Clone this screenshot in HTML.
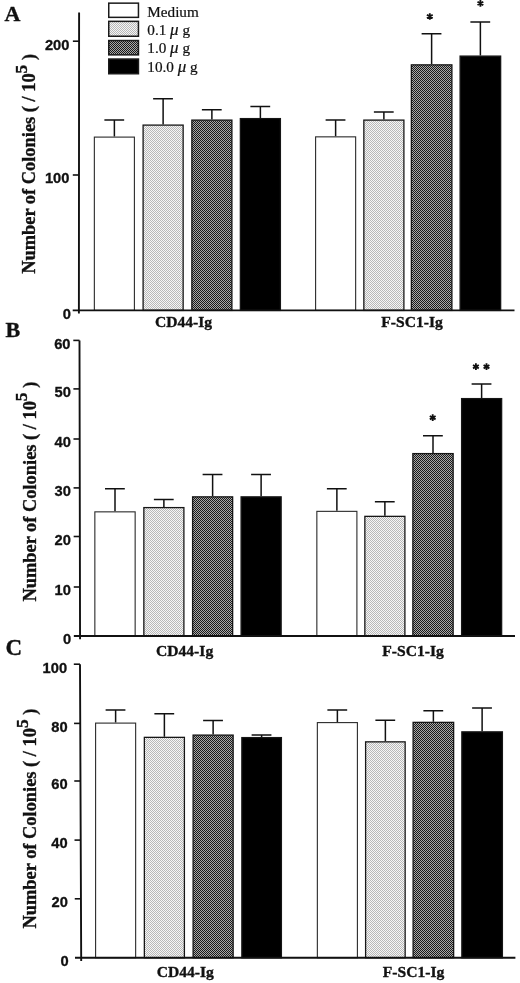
<!DOCTYPE html><html><head><meta charset="utf-8"><title>Figure</title>
<style>html,body{margin:0;padding:0;background:#fff;overflow:hidden}svg{display:block;position:absolute;left:0;top:0}svg{will-change:transform}.ss{font-family:"Liberation Sans",sans-serif;font-weight:bold;stroke:#111;stroke-width:.3px}.sb{font-family:"Liberation Serif",serif;font-weight:bold;stroke:#111;stroke-width:.35px}.sr{font-family:"Liberation Serif",serif;stroke:#111;stroke-width:.22px}</style></head><body>
<svg width="520" height="983" viewBox="0 0 520 983">
<defs><pattern id="pl" width="2" height="2" patternUnits="userSpaceOnUse" shape-rendering="crispEdges"><rect width="2" height="2" fill="#f6f6f6"/><rect x="0" y="0" width="1" height="1" fill="#b8b8b8"/><rect x="1" y="1" width="1" height="1" fill="#b8b8b8"/></pattern><pattern id="pd" width="2" height="2" patternUnits="userSpaceOnUse" shape-rendering="crispEdges"><rect width="2" height="2" fill="#a8a8a8"/><rect x="0" y="0" width="1" height="1" fill="#1a1a1a"/><rect x="1" y="1" width="1" height="1" fill="#1a1a1a"/></pattern></defs>
<rect width="520" height="983" fill="#fff"/>
<path d="M114.38 136.5V120M104.38 120H124.17" stroke="#111" stroke-width="1.5" fill="none"/>
<rect x="94.35" y="137.10" width="40.05" height="173.30" fill="#fff" stroke="#2a2a2a" stroke-width="1.1"/>
<path d="M163.12 124.5V98.75M153.12 98.75H172.93" stroke="#111" stroke-width="1.5" fill="none"/>
<rect x="143.10" y="125.10" width="40.05" height="185.30" fill="url(#pl)" stroke="#161616" stroke-width="1.3"/>
<path d="M211.88 119.5V109.75M201.88 109.75H221.68" stroke="#111" stroke-width="1.5" fill="none"/>
<rect x="191.85" y="120.10" width="40.05" height="190.30" fill="url(#pd)" stroke="#161616" stroke-width="1.3"/>
<path d="M260.38 118V106.5M250.38 106.5H270.18" stroke="#111" stroke-width="1.5" fill="none"/>
<rect x="240.35" y="118.60" width="40.05" height="191.80" fill="#000" stroke="#161616" stroke-width="1.3"/>
<path d="M335.62 136.25V120M325.62 120H345.43" stroke="#111" stroke-width="1.5" fill="none"/>
<rect x="315.60" y="136.85" width="40.05" height="173.55" fill="#fff" stroke="#2a2a2a" stroke-width="1.1"/>
<path d="M383.88 119.5V112M373.88 112H393.68" stroke="#111" stroke-width="1.5" fill="none"/>
<rect x="363.85" y="120.10" width="40.05" height="190.30" fill="url(#pl)" stroke="#161616" stroke-width="1.3"/>
<path d="M431.62 64.25V33.75M421.62 33.75H441.43" stroke="#111" stroke-width="1.5" fill="none"/>
<rect x="411.35" y="64.85" width="40.55" height="245.55" fill="url(#pd)" stroke="#161616" stroke-width="1.3"/>
<path d="M480.38 55.5V22M470.38 22H490.18" stroke="#111" stroke-width="1.5" fill="none"/>
<rect x="460.10" y="56.10" width="40.55" height="254.30" fill="#000" stroke="#161616" stroke-width="1.3"/>
<path d="M79.1 12.5L78.9 313.6M72.70 310.4H514.5" stroke="#111" stroke-width="1.9" fill="none"/>
<path d="M72.88 41.2H79.08" stroke="#111" stroke-width="1.6"/>
<text class="ss" transform="translate(69.40 49.5) scale(1.05 1)" font-size="14" text-anchor="end" fill="#111">200</text>
<path d="M72.79 175H78.99" stroke="#111" stroke-width="1.6"/>
<text class="ss" transform="translate(69.40 183.3) scale(1.05 1)" font-size="14" text-anchor="end" fill="#111">100</text>
<text class="ss" transform="translate(70.90 318.7) scale(1.05 1)" font-size="14" text-anchor="end" fill="#111">0</text>
<text class="sb" x="4.5" y="21" font-size="22" fill="#111">A</text>
<text class="sb" x="183.5" y="326.5" font-size="15.6" text-anchor="middle" fill="#111">CD44-Ig</text>
<text class="sb" x="412" y="326.5" font-size="15.6" text-anchor="middle" fill="#111">F-SC1-Ig</text>
<text class="sb" transform="translate(35.0 163.85) rotate(-90)" font-size="18.4" text-anchor="middle" fill="#111">Number of Colonies ( / 10<tspan dy="-8.5" font-size="17.5">5</tspan><tspan dy="8.5"> )</tspan></text>
<path d="M429.80 13.15L429.80 19.85M432.70 14.82L426.90 18.18M432.70 18.18L426.90 14.82" stroke="#111" stroke-width="1.85" fill="none"/>
<path d="M480.40 0.05L480.40 6.75M483.30 1.73L477.50 5.07M483.30 5.08L477.50 1.72" stroke="#111" stroke-width="1.85" fill="none"/>
<rect x="108.75" y="3.15" width="29.7" height="14.20" fill="#fff" stroke="#1a1a1a" stroke-width="1.5"/>
<rect x="108.75" y="21.35" width="29.7" height="14.90" fill="url(#pl)" stroke="#1a1a1a" stroke-width="1.5"/>
<rect x="108.75" y="40.55" width="29.7" height="14.30" fill="url(#pd)" stroke="#1a1a1a" stroke-width="1.5"/>
<rect x="108.75" y="59.05" width="29.7" height="14.70" fill="#000" stroke="#1a1a1a" stroke-width="1.5"/>
<text class="sr" x="147.3" y="17" font-size="15.2" fill="#111">Medium</text>
<text class="sr" x="147.3" y="35" font-size="15.2" fill="#111">0.1 <tspan font-style="italic" font-size="17">&#956;</tspan> g</text>
<text class="sr" x="147.3" y="53" font-size="15.2" fill="#111">1.0 <tspan font-style="italic" font-size="17">&#956;</tspan> g</text>
<text class="sr" x="147.3" y="72" font-size="15.2" fill="#111">10.0 <tspan font-style="italic" font-size="17">&#956;</tspan> g</text>
<path d="M115.00 511.25V488.75M105.00 488.75H124.80" stroke="#111" stroke-width="1.5" fill="none"/>
<rect x="94.85" y="511.85" width="40.30" height="124.15" fill="#fff" stroke="#2a2a2a" stroke-width="1.1"/>
<path d="M163.88 507V499.5M153.88 499.5H173.68" stroke="#111" stroke-width="1.5" fill="none"/>
<rect x="143.85" y="507.60" width="40.05" height="128.40" fill="url(#pl)" stroke="#161616" stroke-width="1.3"/>
<path d="M212.62 496.25V474.5M202.62 474.5H222.43" stroke="#111" stroke-width="1.5" fill="none"/>
<rect x="192.60" y="496.85" width="40.05" height="139.15" fill="url(#pd)" stroke="#161616" stroke-width="1.3"/>
<path d="M261.12 496.25V474.5M251.12 474.5H270.93" stroke="#111" stroke-width="1.5" fill="none"/>
<rect x="241.10" y="496.85" width="40.05" height="139.15" fill="#000" stroke="#161616" stroke-width="1.3"/>
<path d="M336.88 510.75V488.75M326.88 488.75H346.68" stroke="#111" stroke-width="1.5" fill="none"/>
<rect x="316.85" y="511.35" width="40.05" height="124.65" fill="#fff" stroke="#2a2a2a" stroke-width="1.1"/>
<path d="M384.88 515.75V501.75M374.88 501.75H394.68" stroke="#111" stroke-width="1.5" fill="none"/>
<rect x="364.85" y="516.35" width="40.05" height="119.65" fill="url(#pl)" stroke="#161616" stroke-width="1.3"/>
<path d="M433.00 453V435.75M423.00 435.75H442.80" stroke="#111" stroke-width="1.5" fill="none"/>
<rect x="412.85" y="453.60" width="40.30" height="182.40" fill="url(#pd)" stroke="#161616" stroke-width="1.3"/>
<path d="M481.62 398V384M471.62 384H491.43" stroke="#111" stroke-width="1.5" fill="none"/>
<rect x="461.60" y="398.60" width="40.05" height="237.40" fill="#000" stroke="#161616" stroke-width="1.3"/>
<path d="M79.5 340.4L80.05 639.2M73.84 636.0H515" stroke="#111" stroke-width="1.9" fill="none"/>
<path d="M73.30 340.4H79.50" stroke="#111" stroke-width="1.6"/>
<text class="ss" transform="translate(70.50 348.7) scale(1.05 1)" font-size="14" text-anchor="end" fill="#111">60</text>
<path d="M73.39 388.9H79.59" stroke="#111" stroke-width="1.6"/>
<text class="ss" transform="translate(70.90 397.2) scale(1.05 1)" font-size="14" text-anchor="end" fill="#111">50</text>
<path d="M73.48 439.0H79.68" stroke="#111" stroke-width="1.6"/>
<text class="ss" transform="translate(70.90 447.3) scale(1.05 1)" font-size="14" text-anchor="end" fill="#111">40</text>
<path d="M73.57 487.9H79.77" stroke="#111" stroke-width="1.6"/>
<text class="ss" transform="translate(70.90 496.2) scale(1.05 1)" font-size="14" text-anchor="end" fill="#111">30</text>
<path d="M73.66 536.5H79.86" stroke="#111" stroke-width="1.6"/>
<text class="ss" transform="translate(70.90 544.8) scale(1.05 1)" font-size="14" text-anchor="end" fill="#111">20</text>
<path d="M73.75 587.0H79.95" stroke="#111" stroke-width="1.6"/>
<text class="ss" transform="translate(70.90 595.3) scale(1.05 1)" font-size="14" text-anchor="end" fill="#111">10</text>
<text class="ss" transform="translate(71.10 644.3) scale(1.05 1)" font-size="14" text-anchor="end" fill="#111">0</text>
<text class="sb" x="5.5" y="337" font-size="22" fill="#111">B</text>
<text class="sb" x="184.6" y="656.3" font-size="15.6" text-anchor="middle" fill="#111">CD44-Ig</text>
<text class="sb" x="413" y="656.3" font-size="15.6" text-anchor="middle" fill="#111">F-SC1-Ig</text>
<text class="sb" transform="translate(35.6 491.6) rotate(-90)" font-size="18.4" text-anchor="middle" fill="#111">Number of Colonies ( / 10<tspan dy="-8.5" font-size="17.5">5</tspan><tspan dy="8.5"> )</tspan></text>
<path d="M432.70 414.35L432.70 421.05M435.60 416.02L429.80 419.38M435.60 419.38L429.80 416.02" stroke="#111" stroke-width="1.85" fill="none"/>
<path d="M475.90 363.35L475.90 370.05M478.80 365.02L473.00 368.38M478.80 368.38L473.00 365.02" stroke="#111" stroke-width="1.85" fill="none"/>
<path d="M486.50 363.35L486.50 370.05M489.40 365.02L483.60 368.38M489.40 368.38L483.60 365.02" stroke="#111" stroke-width="1.85" fill="none"/>
<path d="M115.62 722.5V710M105.62 710H125.42" stroke="#111" stroke-width="1.5" fill="none"/>
<rect x="95.60" y="723.10" width="40.05" height="234.60" fill="#fff" stroke="#2a2a2a" stroke-width="1.1"/>
<path d="M164.38 736.75V713.75M154.38 713.75H174.18" stroke="#111" stroke-width="1.5" fill="none"/>
<rect x="144.35" y="737.35" width="40.05" height="220.35" fill="url(#pl)" stroke="#161616" stroke-width="1.3"/>
<path d="M213.12 734.5V720.5M203.12 720.5H222.93" stroke="#111" stroke-width="1.5" fill="none"/>
<rect x="193.10" y="735.10" width="40.05" height="222.60" fill="url(#pd)" stroke="#161616" stroke-width="1.3"/>
<path d="M261.62 737V735M251.62 735H271.43" stroke="#111" stroke-width="1.5" fill="none"/>
<rect x="241.85" y="737.60" width="39.55" height="220.10" fill="#000" stroke="#161616" stroke-width="1.3"/>
<path d="M337.38 722V710M327.38 710H347.18" stroke="#111" stroke-width="1.5" fill="none"/>
<rect x="317.35" y="722.60" width="40.05" height="235.10" fill="#fff" stroke="#2a2a2a" stroke-width="1.1"/>
<path d="M385.38 741.25V720.25M375.38 720.25H395.18" stroke="#111" stroke-width="1.5" fill="none"/>
<rect x="365.60" y="741.85" width="39.55" height="215.85" fill="url(#pl)" stroke="#161616" stroke-width="1.3"/>
<path d="M433.38 721.75V710.75M423.38 710.75H443.18" stroke="#111" stroke-width="1.5" fill="none"/>
<rect x="413.10" y="722.35" width="40.55" height="235.35" fill="url(#pd)" stroke="#161616" stroke-width="1.3"/>
<path d="M482.12 731.25V708M472.12 708H491.93" stroke="#111" stroke-width="1.5" fill="none"/>
<rect x="461.85" y="731.85" width="40.55" height="225.85" fill="#000" stroke="#161616" stroke-width="1.3"/>
<path d="M80.0 664.2L81.2 961.1M74.99 957.7H515.4" stroke="#111" stroke-width="1.9" fill="none"/>
<path d="M73.80 664.2H80.00" stroke="#111" stroke-width="1.6"/>
<text class="ss" transform="translate(67.10 672.5) scale(1.05 1)" font-size="14" text-anchor="end" fill="#111">100</text>
<path d="M74.04 723.4H80.24" stroke="#111" stroke-width="1.6"/>
<text class="ss" transform="translate(67.60 731.7) scale(1.05 1)" font-size="14" text-anchor="end" fill="#111">80</text>
<path d="M74.27 781H80.47" stroke="#111" stroke-width="1.6"/>
<text class="ss" transform="translate(67.60 789.3) scale(1.05 1)" font-size="14" text-anchor="end" fill="#111">60</text>
<path d="M74.51 840.1H80.71" stroke="#111" stroke-width="1.6"/>
<text class="ss" transform="translate(67.60 848.4) scale(1.05 1)" font-size="14" text-anchor="end" fill="#111">40</text>
<path d="M74.75 898.8H80.95" stroke="#111" stroke-width="1.6"/>
<text class="ss" transform="translate(67.90 907.1) scale(1.05 1)" font-size="14" text-anchor="end" fill="#111">20</text>
<text class="ss" transform="translate(68.60 966.0) scale(1.05 1)" font-size="14" text-anchor="end" fill="#111">0</text>
<text class="sb" x="5.6" y="655.2" font-size="23" fill="#111">C</text>
<text class="sb" x="185.3" y="976.7" font-size="15.6" text-anchor="middle" fill="#111">CD44-Ig</text>
<text class="sb" x="413.5" y="976.7" font-size="15.6" text-anchor="middle" fill="#111">F-SC1-Ig</text>
<text class="sb" transform="translate(36.3 818.55) rotate(-90)" font-size="18.4" text-anchor="middle" fill="#111">Number of Colonies ( / 10<tspan dy="-8.5" font-size="17.5">5</tspan><tspan dy="8.5"> )</tspan></text>
</svg></body></html>
